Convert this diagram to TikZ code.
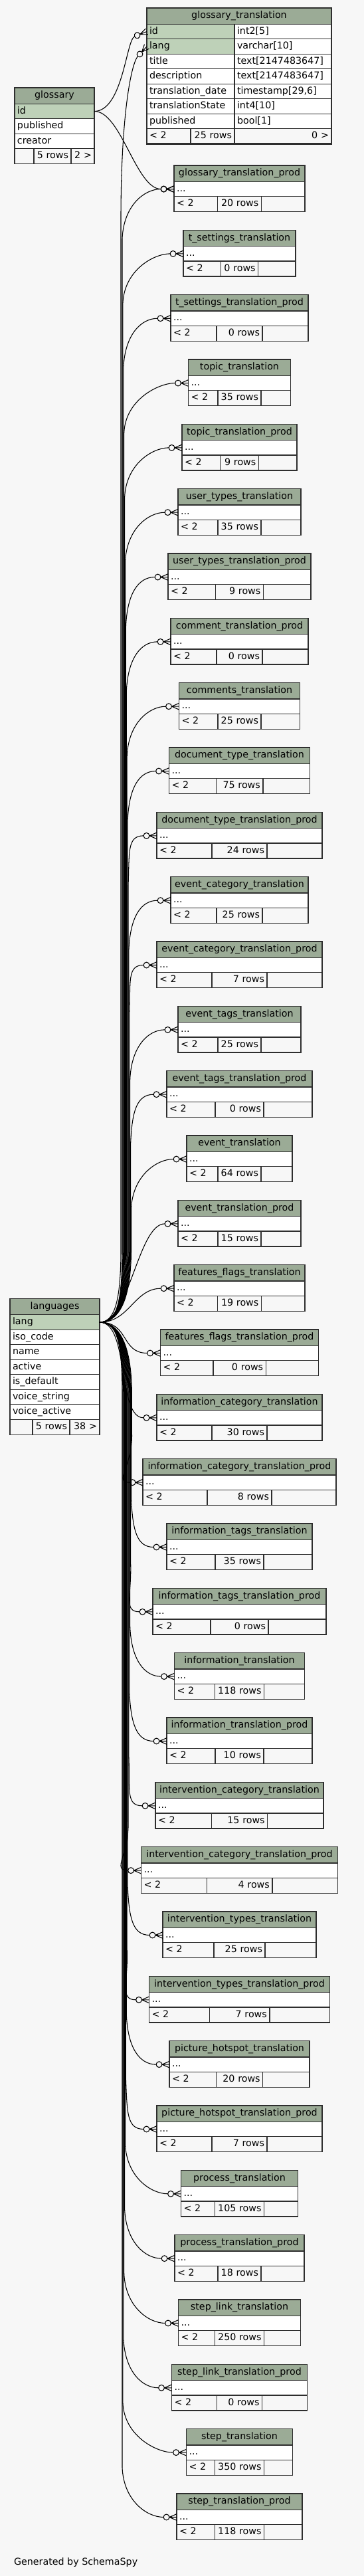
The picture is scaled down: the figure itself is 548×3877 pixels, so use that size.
\documentclass[tikz,border=0pt]{standalone}
\usepackage{fontspec}
\setmainfont{DejaVu Sans}
\usetikzlibrary{positioning}

\definecolor{pagebg}{HTML}{F7F7F7}
\definecolor{headfill}{HTML}{9BAB96}
\definecolor{keyfill}{HTML}{BED1B8}
\definecolor{rule}{HTML}{2E2E2E}

\newcommand\px{0.75pt}

% crow's foot with open circle (zero or many)
\pgfdeclarearrow{
  name = crowodot,
  setup code = {
    \pgfarrowssettipend{0pt}
    \pgfarrowssetlineend{-14.9pt}
    \pgfarrowssetvisualbackend{-14.9pt}
    \pgfarrowssetbackend{-14.9pt}
    \pgfarrowshullpoint{-14.9pt}{0pt}
    \pgfarrowsupperhullpoint{-11.6pt}{3.6pt}
    \pgfarrowsupperhullpoint{0pt}{3.6pt}
  },
  drawing code = {
    \pgfpathcircle{\pgfpoint{-11.6pt}{0pt}}{3.3pt}
    \pgfpathmoveto{\pgfpoint{-8.3pt}{0pt}}
    \pgfpathlineto{\pgfpoint{0pt}{3.6pt}}
    \pgfpathmoveto{\pgfpoint{-8.3pt}{0pt}}
    \pgfpathlineto{\pgfpoint{0pt}{0pt}}
    \pgfpathmoveto{\pgfpoint{-8.3pt}{0pt}}
    \pgfpathlineto{\pgfpoint{0pt}{-3.6pt}}
    \pgfusepathqstroke
  }
}

\tikzset{
  cell/.style={draw=rule, line width=1pt, inner xsep=4*\px, inner ysep=0pt,
    outer sep=0pt, text height=8pt, text depth=2.5pt},
  cellw/.style={text width=(#1-8)*\px},
  headcell/.style={cell, fill=headfill, minimum height=24.3*\px},
  bodycell/.style={cell, fill=white, minimum height=22.5*\px, align=left},
  keycell/.style={bodycell, fill=keyfill},
  footcell/.style={cell, fill=pagebg, minimum height=23*\px, align=left},
  relation/.style={draw=black, line width=0.8pt, -crowodot},
}

\begin{document}
\catcode`\_=12
\fontsize{10.7}{13}\selectfont
\begin{tikzpicture}[x=\px, y=-\px]
\fill[pagebg] (0,0) rectangle (548,3877);
\useasboundingbox (0,0) rectangle (548,3877);

% glossary
\node[headcell, minimum width=120*\px, anchor=north west] (glossary) at (22,132) {glossary};
\node[keycell, cellw=120, below=0pt of glossary] (glossary-id) {id};
\node[bodycell, cellw=120, below=0pt of glossary-id] (glossary-published) {published};
\node[bodycell, cellw=120, below=0pt of glossary-published] (glossary-creator) {creator};
\node[footcell, cellw=29, below right=0pt and 0pt of glossary-creator.south west] (glossary-min) {};
\node[footcell, cellw=56, align=right, right=0pt of glossary-min] (glossary-rows) {5 rows};
\node[footcell, cellw=35, align=right, right=0pt of glossary-rows] (glossary-max) {2 >};

% languages
\node[headcell, minimum width=135*\px, anchor=north west] (languages) at (15,1954.5) {languages};
\node[keycell, cellw=135, below=0pt of languages] (languages-lang) {lang};
\node[bodycell, cellw=135, below=0pt of languages-lang] (languages-iso_code) {iso_code};
\node[bodycell, cellw=135, below=0pt of languages-iso_code] (languages-name) {name};
\node[bodycell, cellw=135, below=0pt of languages-name] (languages-active) {active};
\node[bodycell, cellw=135, below=0pt of languages-active] (languages-is_default) {is_default};
\node[bodycell, cellw=135, below=0pt of languages-is_default] (languages-voice_string) {voice_string};
\node[bodycell, cellw=135, below=0pt of languages-voice_string] (languages-voice_active) {voice_active};
\node[footcell, cellw=34, below right=0pt and 0pt of languages-voice_active.south west] (languages-min) {};
\node[footcell, cellw=56, align=right, right=0pt of languages-min] (languages-rows) {5 rows};
\node[footcell, cellw=45, align=right, right=0pt of languages-rows] (languages-max) {38 >};

% glossary_translation (the focused table)
\node[headcell, minimum width=278*\px, anchor=north west] (glossary_translation) at (221,12) {glossary_translation};
\node[keycell, cellw=132, below right=0pt and 0pt of glossary_translation.south west] (glossary_translation-id) {id};
\node[bodycell, cellw=146, right=0pt of glossary_translation-id] (glossary_translation-id-type) {int2[5]};
\node[keycell, cellw=132, below=0pt of glossary_translation-id] (glossary_translation-lang) {lang};
\node[bodycell, cellw=146, right=0pt of glossary_translation-lang] (glossary_translation-lang-type) {varchar[10]};
\node[bodycell, cellw=132, below=0pt of glossary_translation-lang] (glossary_translation-title) {title};
\node[bodycell, cellw=146, right=0pt of glossary_translation-title] (glossary_translation-title-type) {text[2147483647]};
\node[bodycell, cellw=132, below=0pt of glossary_translation-title] (glossary_translation-description) {description};
\node[bodycell, cellw=146, right=0pt of glossary_translation-description] (glossary_translation-description-type) {text[2147483647]};
\node[bodycell, cellw=132, below=0pt of glossary_translation-description] (glossary_translation-date) {translation_date};
\node[bodycell, cellw=146, right=0pt of glossary_translation-date] (glossary_translation-date-type) {timestamp[29,6]};
\node[bodycell, cellw=132, below=0pt of glossary_translation-date] (glossary_translation-state) {translationState};
\node[bodycell, cellw=146, right=0pt of glossary_translation-state] (glossary_translation-state-type) {int4[10]};
\node[bodycell, cellw=132, below=0pt of glossary_translation-state] (glossary_translation-published) {published};
\node[bodycell, cellw=146, right=0pt of glossary_translation-published] (glossary_translation-published-type) {bool[1]};
\node[footcell, cellw=66, below right=0pt and 0pt of glossary_translation-published.south west] (glossary_translation-min) {< 2};
\node[footcell, cellw=66, align=right, right=0pt of glossary_translation-min] (glossary_translation-rows) {25 rows};
\node[footcell, cellw=146, align=right, right=0pt of glossary_translation-rows] (glossary_translation-max) {0 >};
\draw[rule, line width=2.2pt] (glossary_translation.north west) rectangle (glossary_translation-max.south east);

% child tables of languages, stacked down the right side
\foreach \tname/\twidth/\trows [count=\i from 0] in {
  glossary_translation_prod/197/20 rows,
  t_settings_translation/169/0 rows,
  t_settings_translation_prod/207/0 rows,
  topic_translation/154/35 rows,
  topic_translation_prod/173/9 rows,
  user_types_translation/185/35 rows,
  user_types_translation_prod/215/9 rows,
  comment_translation_prod/207/0 rows,
  comments_translation/182/25 rows,
  document_type_translation/212/75 rows,
  document_type_translation_prod/249/24 rows,
  event_category_translation/207/25 rows,
  event_category_translation_prod/249/7 rows,
  event_tags_translation/185/25 rows,
  event_tags_translation_prod/219/0 rows,
  event_translation/159/64 rows,
  event_translation_prod/185/15 rows,
  features_flags_translation/197/19 rows,
  features_flags_translation_prod/238/0 rows,
  information_category_translation/249/30 rows,
  information_category_translation_prod/291/8 rows,
  information_tags_translation/219/35 rows,
  information_tags_translation_prod/261/0 rows,
  information_translation/196/118 rows,
  information_translation_prod/219/10 rows,
  intervention_category_translation/253/15 rows,
  intervention_category_translation_prod/296/4 rows,
  intervention_types_translation/231/25 rows,
  intervention_types_translation_prod/272/7 rows,
  picture_hotspot_translation/211/20 rows,
  picture_hotspot_translation_prod/249/7 rows,
  process_translation/176/105 rows,
  process_translation_prod/195/18 rows,
  step_link_translation/184/250 rows,
  step_link_translation_prod/204/0 rows,
  step_translation/160/350 rows,
  step_translation_prod/189/118 rows} {
  \pgfmathsetmacro\ytop{249+97.33*\i}
  \pgfmathsetmacro\yr{\ytop+35.55}
  \pgfmathsetmacro\lft{360.5-\twidth/2}
  \pgfmathsetmacro\midw{max(\twidth/3,width("\trows")/0.75+9)}
  \pgfmathsetmacro\sidew{(\twidth-\midw)/2}
  \node[headcell, minimum width=\twidth*\px, anchor=north] (\tname) at (360.5,\ytop) {\tname};
  \node[bodycell, cellw=\twidth, below=0pt of \tname] (\tname-row) {...};
  \node[footcell, cellw=\sidew, below right=0pt and 0pt of \tname-row.south west] (\tname-min) {< 2};
  \node[footcell, cellw=\midw, align=right, right=0pt of \tname-min] (\tname-rows) {\trows};
  \node[footcell, cellw=\sidew, right=0pt of \tname-rows] (\tname-max) {};
  \ifnum\i<16
    \pgfmathsetmacro\xt{184+0.9*\i}
    \draw[relation] (languages-lang.east) .. controls (175,1990) and (\xt,1965) .. (\xt,1880)
      -- (\xt,\yr+75) .. controls (\xt+2,\yr+25) and (\lft-45,\yr) .. (\tname-row.west);
  \else\ifnum\i<20
    \draw[relation] (languages-lang.east) .. controls (195,1990) and (\lft-60,\yr) .. (\tname-row.west);
  \else
    \pgfmathsetmacro\xt{184+0.9*(36-\i)}
    \draw[relation] (languages-lang.east) .. controls (175,1990) and (\xt,2015) .. (\xt,2100)
      -- (\xt,\yr-75) .. controls (\xt+2,\yr-25) and (\lft-45,\yr) .. (\tname-row.west);
  \fi\fi
}

% glossary links and the lang link of the focused table
\draw[relation] (glossary-id.east) .. controls (185,167) and (190,60) .. (glossary_translation-id.west);
\draw[relation] (glossary-id.east) .. controls (182,167) and (205,284.5) .. (glossary_translation_prod-row.west);
\draw[relation] (languages-lang.east) .. controls (172,1990) and (182,1960) .. (182,1880)
  -- (182,330) .. controls (182,170) and (198,95) .. (glossary_translation-lang.west);

\node[anchor=west] (credit) at (16,3857) {Generated by SchemaSpy};
\end{tikzpicture}
\end{document}
